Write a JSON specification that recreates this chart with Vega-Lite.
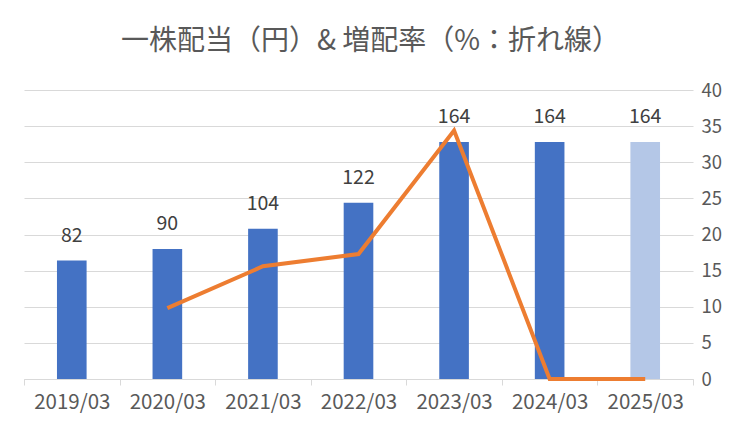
{
  "$schema": "https://vega.github.io/schema/vega-lite/v6.json",
  "width": 669,
  "height": 289,
  "autosize": {"type": "none"},
  "padding": {"left": 24, "top": 90, "right": 57, "bottom": 52},
  "background": "white",
  "title": {
    "text": "一株配当（円）& 増配率（%：折れ線）",
    "anchor": "middle",
    "dx": 12,
    "offset": 25,
    "font": "Noto Sans CJK JP",
    "fontSize": 28,
    "fontWeight": "normal",
    "color": "#595959"
  },
  "data": {
    "values": [
      {"year": "2019/03", "dividend": 82, "growth": null, "kind": "actual"},
      {"year": "2020/03", "dividend": 90, "growth": 9.8, "kind": "actual"},
      {"year": "2021/03", "dividend": 104, "growth": 15.6, "kind": "actual"},
      {"year": "2022/03", "dividend": 122, "growth": 17.3, "kind": "actual"},
      {"year": "2023/03", "dividend": 164, "growth": 34.4, "kind": "actual"},
      {"year": "2024/03", "dividend": 164, "growth": 0, "kind": "actual"},
      {"year": "2025/03", "dividend": 164, "growth": 0, "kind": "forecast"}
    ]
  },
  "encoding": {
    "x": {
      "field": "year",
      "type": "ordinal",
      "title": null,
      "scale": {"paddingInner": 0, "paddingOuter": 0},
      "axis": {
        "labelAngle": 0,
        "tickBand": "extent",
        "tickSize": 6,
        "tickColor": "#d9d9d9",
        "domainColor": "#d9d9d9",
        "labelPadding": 7,
        "labelFontSize": 20.5,
        "labelColor": "#595959",
        "grid": false
      }
    }
  },
  "layer": [
    {
      "layer": [
        {
          "mark": {"type": "bar", "width": {"band": 0.31}},
          "encoding": {
            "y": {
              "field": "dividend",
              "type": "quantitative",
              "scale": {"domain": [0, 200]},
              "axis": null
            },
            "color": {
              "field": "kind",
              "type": "nominal",
              "scale": {"domain": ["actual", "forecast"], "range": ["#4472C4", "#B4C7E7"]},
              "legend": null
            }
          }
        },
        {
          "mark": {"type": "text", "dy": -25, "fontSize": 19.5, "color": "#404040", "font": "Noto Sans CJK JP"},
          "encoding": {
            "y": {"field": "dividend", "type": "quantitative", "scale": {"domain": [0, 200]}, "axis": null},
            "text": {"field": "dividend", "type": "quantitative"}
          }
        }
      ]
    },
    {
      "mark": {"type": "line", "color": "#ED7D31", "strokeWidth": 4},
      "encoding": {
        "y": {
          "field": "growth",
          "type": "quantitative",
          "scale": {"domain": [0, 40]},
          "axis": {
            "orient": "right",
            "title": null,
            "values": [0, 5, 10, 15, 20, 25, 30, 35, 40],
            "grid": true,
            "gridColor": "#d9d9d9",
            "gridWidth": 1,
            "domain": false,
            "ticks": false,
            "labelPadding": 8,
            "labelFontSize": 18.5,
            "labelColor": "#595959"
          }
        }
      }
    }
  ],
  "resolve": {"scale": {"y": "independent"}},
  "config": {
    "view": {"stroke": null},
    "font": "Noto Sans CJK JP",
    "axis": {"labelFont": "Noto Sans CJK JP"}
  }
}
